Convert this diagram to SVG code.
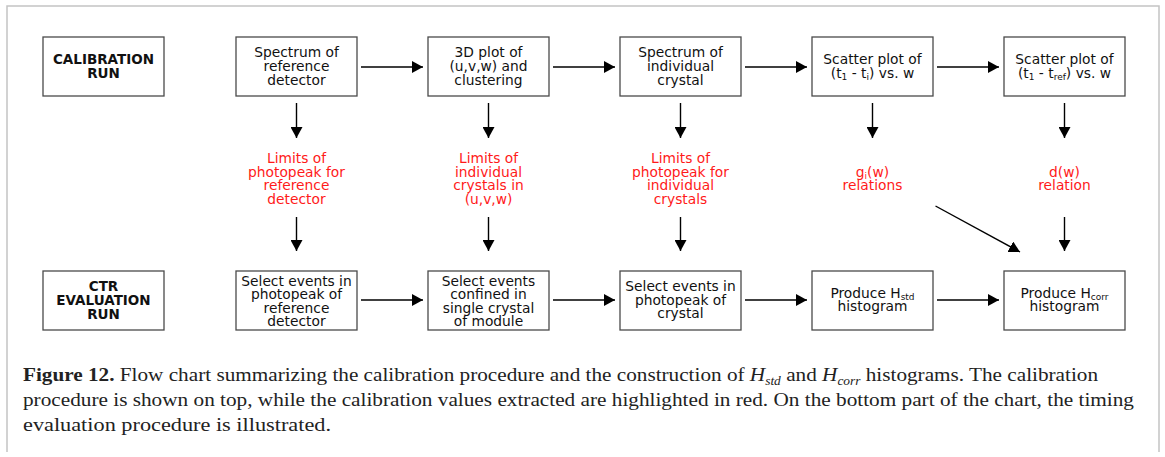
<svg xmlns="http://www.w3.org/2000/svg" width="1165" height="457" viewBox="0 0 1165 457">
  <style>
    .box { fill: #ffffff; stroke: #4a4a4a; stroke-width: 1.3; }
    .lbl { font-family: "DejaVu Sans", sans-serif; font-size: 13.8px; fill: #111; text-anchor: middle; }
    .hdr { font-family: "DejaVu Sans", sans-serif; font-size: 13.5px; font-weight: bold; fill: #111; text-anchor: middle; }
    .val { font-family: "DejaVu Sans", sans-serif; font-size: 13.8px; fill: #ff1a1a; text-anchor: middle; }
    .sub { font-size: 9px; }
    .arrow { stroke: #000; stroke-width: 1.4; fill: none; marker-end: url(#head); }
    .cap { font-family: "Liberation Serif", serif; font-size: 19px; fill: #222; }
  </style>
  <defs>
    <marker id="head" markerUnits="userSpaceOnUse" markerWidth="12" markerHeight="12" refX="11" refY="6" orient="auto">
      <path d="M0,0 L11,6 L0,12 z" fill="#000"/>
    </marker>
  </defs>

  <rect width="1165" height="457" fill="#ffffff"/>
  <!-- figure frame -->
  <path d="M7,452 V6 H1159 V452" fill="none" stroke="#c4c4c4" stroke-width="1.5"/>

  <!-- calibration row -->
  <g id="calibration-run">
    <rect class="box" x="43" y="37" width="121" height="59"/>
    <text class="hdr"><tspan x="103.5" y="64">CALIBRATION</tspan><tspan x="103.5" y="78">RUN</tspan></text>
  </g>
  <g id="spectrum-reference">
    <rect class="box" x="236" y="37" width="121" height="59"/>
    <text class="lbl"><tspan x="296.5" y="57">Spectrum of</tspan><tspan x="296.5" y="71">reference</tspan><tspan x="296.5" y="85">detector</tspan></text>
  </g>
  <g id="plot-3d">
    <rect class="box" x="428" y="37" width="121" height="59"/>
    <text class="lbl"><tspan x="488.5" y="57">3D plot of</tspan><tspan x="488.5" y="71">(u,v,w) and</tspan><tspan x="488.5" y="85">clustering</tspan></text>
  </g>
  <g id="spectrum-crystal">
    <rect class="box" x="620" y="37" width="121" height="59"/>
    <text class="lbl"><tspan x="680.5" y="57">Spectrum of</tspan><tspan x="680.5" y="71">individual</tspan><tspan x="680.5" y="85">crystal</tspan></text>
  </g>
  <g id="scatter-ti">
    <rect class="box" x="812" y="37" width="121" height="59"/>
    <text class="lbl"><tspan x="872.5" y="64">Scatter plot of</tspan><tspan x="872.5" y="78">(t<tspan class="sub" baseline-shift="-2">1</tspan> - t<tspan class="sub" baseline-shift="-2">i</tspan>) vs. w</tspan></text>
  </g>
  <g id="scatter-tref">
    <rect class="box" x="1004" y="37" width="121" height="59"/>
    <text class="lbl"><tspan x="1064.5" y="64">Scatter plot of</tspan><tspan x="1064.5" y="78">(t<tspan class="sub" baseline-shift="-2">1</tspan> - t<tspan class="sub" baseline-shift="-2">ref</tspan>) vs. w</tspan></text>
  </g>

  <!-- extracted calibration values -->
  <g id="limits-reference">
    <text class="val"><tspan x="296.5" y="163">Limits of</tspan><tspan x="296.5" y="176.7">photopeak for</tspan><tspan x="296.5" y="190.4">reference</tspan><tspan x="296.5" y="204">detector</tspan></text>
  </g>
  <g id="limits-crystals">
    <text class="val"><tspan x="488.5" y="163">Limits of</tspan><tspan x="488.5" y="176.7">individual</tspan><tspan x="488.5" y="190.4">crystals in</tspan><tspan x="488.5" y="204">(u,v,w)</tspan></text>
  </g>
  <g id="limits-photopeak">
    <text class="val"><tspan x="680.5" y="163">Limits of</tspan><tspan x="680.5" y="176.7">photopeak for</tspan><tspan x="680.5" y="190.4">individual</tspan><tspan x="680.5" y="204">crystals</tspan></text>
  </g>
  <g id="gi-relations">
    <text class="val"><tspan x="872.5" y="176.7">g<tspan class="sub" baseline-shift="-2">i</tspan>(w)</tspan><tspan x="872.5" y="190.4">relations</tspan></text>
  </g>
  <g id="d-relation">
    <text class="val"><tspan x="1064.5" y="176.7">d(w)</tspan><tspan x="1064.5" y="190.4">relation</tspan></text>
  </g>

  <!-- evaluation row -->
  <g id="ctr-evaluation-run">
    <rect class="box" x="43" y="271" width="121" height="59"/>
    <text class="hdr"><tspan x="103.5" y="291">CTR</tspan><tspan x="103.5" y="305">EVALUATION</tspan><tspan x="103.5" y="319">RUN</tspan></text>
  </g>
  <g id="select-reference">
    <rect class="box" x="236" y="271" width="121" height="59"/>
    <text class="lbl"><tspan x="296.5" y="285.5">Select events in</tspan><tspan x="296.5" y="299">photopeak of</tspan><tspan x="296.5" y="312.5">reference</tspan><tspan x="296.5" y="326">detector</tspan></text>
  </g>
  <g id="select-single-crystal">
    <rect class="box" x="428" y="271" width="121" height="59"/>
    <text class="lbl"><tspan x="488.5" y="285.5">Select events</tspan><tspan x="488.5" y="299">confined in</tspan><tspan x="488.5" y="312.5">single  crystal</tspan><tspan x="488.5" y="326">of module</tspan></text>
  </g>
  <g id="select-crystal">
    <rect class="box" x="620" y="271" width="121" height="59"/>
    <text class="lbl"><tspan x="680.5" y="291">Select events in</tspan><tspan x="680.5" y="304.5">photopeak of</tspan><tspan x="680.5" y="318">crystal</tspan></text>
  </g>
  <g id="produce-hstd">
    <rect class="box" x="812" y="271" width="121" height="59"/>
    <text class="lbl"><tspan x="872.5" y="298">Produce H<tspan class="sub" baseline-shift="-2">std</tspan></tspan><tspan x="872.5" y="311">histogram</tspan></text>
  </g>
  <g id="produce-hcorr">
    <rect class="box" x="1004" y="271" width="121" height="59"/>
    <text class="lbl"><tspan x="1064.5" y="298">Produce H<tspan class="sub" baseline-shift="-2">corr</tspan></tspan><tspan x="1064.5" y="311">histogram</tspan></text>
  </g>

  <!-- connectors -->
  <g id="connectors">
    <line class="arrow" x1="361" y1="67" x2="423" y2="67"/>
    <line class="arrow" x1="553" y1="67" x2="615" y2="67"/>
    <line class="arrow" x1="745" y1="67" x2="807" y2="67"/>
    <line class="arrow" x1="937" y1="67" x2="999" y2="67"/>

    <line class="arrow" x1="296.5" y1="103" x2="296.5" y2="138"/>
    <line class="arrow" x1="488.5" y1="103" x2="488.5" y2="138"/>
    <line class="arrow" x1="680.5" y1="103" x2="680.5" y2="138"/>
    <line class="arrow" x1="872.5" y1="103" x2="872.5" y2="138"/>
    <line class="arrow" x1="1064.5" y1="103" x2="1064.5" y2="138"/>

    <line class="arrow" x1="296.5" y1="217" x2="296.5" y2="251"/>
    <line class="arrow" x1="488.5" y1="217" x2="488.5" y2="251"/>
    <line class="arrow" x1="680.5" y1="217" x2="680.5" y2="251"/>
    <line class="arrow" x1="935.5" y1="206" x2="1020" y2="252"/>
    <line class="arrow" x1="1064.5" y1="217" x2="1064.5" y2="251"/>

    <line class="arrow" x1="361" y1="300" x2="423" y2="300"/>
    <line class="arrow" x1="553" y1="300" x2="615" y2="300"/>
    <line class="arrow" x1="745" y1="300" x2="807" y2="300"/>
    <line class="arrow" x1="937" y1="300" x2="999" y2="300"/>
  </g>

  <!-- caption -->
  <g id="caption">
    <text class="cap" x="23" y="381" textLength="1075" lengthAdjust="spacingAndGlyphs"><tspan font-weight="bold">Figure 12.</tspan>  Flow chart summarizing the calibration procedure and the construction of <tspan font-style="italic">H<tspan font-size="12" baseline-shift="-4">std</tspan></tspan> and <tspan font-style="italic">H<tspan font-size="12" baseline-shift="-4">corr</tspan></tspan> histograms. The calibration</text>
    <text class="cap" x="23" y="406" textLength="1111" lengthAdjust="spacingAndGlyphs">procedure is shown on top, while the calibration values extracted are highlighted in red. On the bottom part of the chart, the timing</text>
    <text class="cap" x="23" y="431" textLength="308" lengthAdjust="spacingAndGlyphs">evaluation procedure is illustrated.</text>
  </g>
</svg>
